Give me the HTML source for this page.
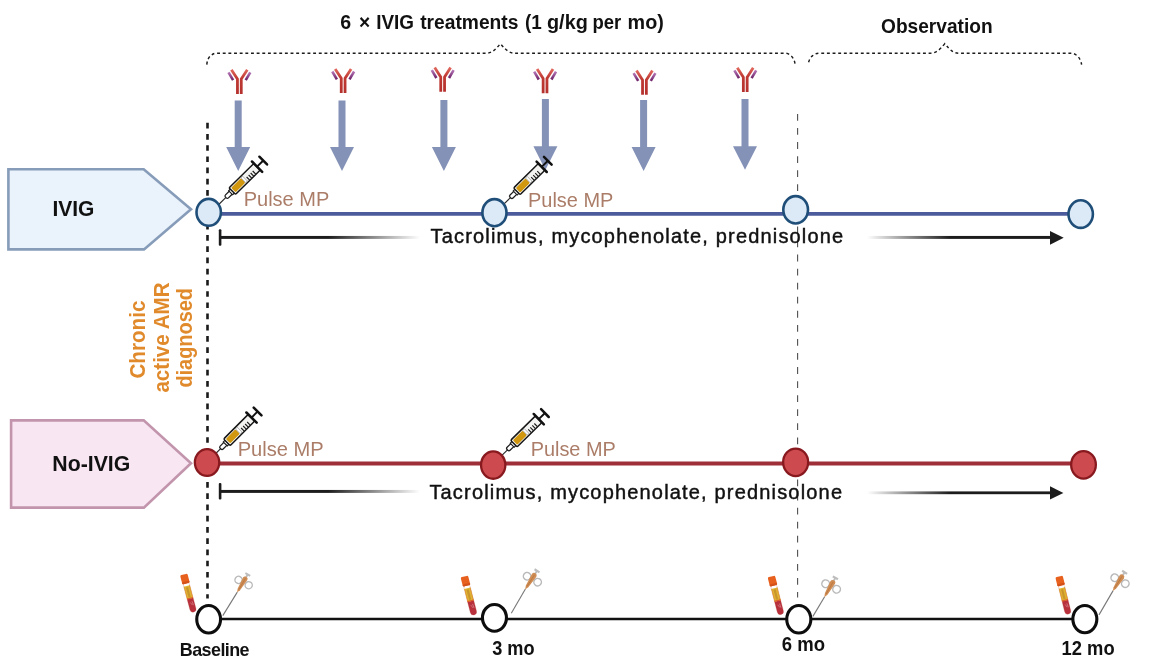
<!DOCTYPE html>
<html>
<head>
<meta charset="utf-8">
<title>IVIG study design</title>
<style>
html,body{margin:0;padding:0;background:#ffffff;}
body{width:1168px;height:664px;overflow:hidden;font-family:"Liberation Sans",sans-serif;}
svg{display:block;will-change:transform;}
text{font-family:"Liberation Sans",sans-serif;}
</style>
</head>
<body>
<svg width="1168" height="664" viewBox="0 0 1168 664">
<defs>
  <linearGradient id="fadeOut" x1="0" y1="0" x2="1" y2="0">
    <stop offset="0" stop-color="#1c1c1c" stop-opacity="1"/>
    <stop offset="0.54" stop-color="#1c1c1c" stop-opacity="1"/>
    <stop offset="1" stop-color="#1c1c1c" stop-opacity="0"/>
  </linearGradient>
  <linearGradient id="fadeIn" x1="0" y1="0" x2="1" y2="0">
    <stop offset="0" stop-color="#1c1c1c" stop-opacity="0"/>
    <stop offset="0.45" stop-color="#1c1c1c" stop-opacity="1"/>
    <stop offset="1" stop-color="#1c1c1c" stop-opacity="1"/>
  </linearGradient>

  <linearGradient id="abR" gradientUnits="userSpaceOnUse" x1="0" y1="-24" x2="0" y2="0">
    <stop offset="0" stop-color="#e0685e"/>
    <stop offset="0.35" stop-color="#bf3a33"/>
    <stop offset="1" stop-color="#b5312d"/>
  </linearGradient>
  <linearGradient id="abP" gradientUnits="userSpaceOnUse" x1="0" y1="-21.4" x2="0" y2="-13.6">
    <stop offset="0" stop-color="#b577b8"/>
    <stop offset="1" stop-color="#6d2166"/>
  </linearGradient>

  <!-- antibody: origin at bottom-centre of stem, 23px tall -->
  <g id="ab">
    <line x1="-10.8" y1="-21.4" x2="-6.2" y2="-13.6" stroke="url(#abP)" stroke-width="2.6"/>
    <line x1="11.0" y1="-21.4" x2="6.4" y2="-13.6" stroke="url(#abP)" stroke-width="2.6"/>
    <path d="M-1.85,0.2 L-1.85,-14.6 L-7.9,-24" fill="none" stroke="url(#abR)" stroke-width="2.8" stroke-linejoin="round"/>
    <path d="M1.95,0.2 L1.95,-14.6 L8,-24" fill="none" stroke="url(#abR)" stroke-width="2.8" stroke-linejoin="round"/>
  </g>

  <!-- big blue down arrow: origin at tip, shaft top at y=-70 -->
  <g id="arr">
    <path d="M-3.5,-70 L3.5,-70 L3.5,-22.5 L12,-22.5 L0,0 L-12,-22.5 L-3.5,-22.5 Z" fill="#8592b7"/>
  </g>

  <!-- syringe: needle tip at (0,0), axis along +x, plunger top at x=61 -->
  <g id="syr">
    <line x1="0" y1="0" x2="11" y2="0" stroke="#2a2a2a" stroke-width="1.1"/>
    <rect x="10.2" y="-2" width="7.3" height="4" rx="1.5" fill="#fff" stroke="#1c1c1c" stroke-width="1.2"/>
    <rect x="16.6" y="-2.7" width="2.6" height="5.4" fill="#fff" stroke="#1c1c1c" stroke-width="1.1"/>
    <rect x="18.8" y="-4.4" width="33" height="8.8" rx="1.2" fill="#f3f3f1" stroke="#161616" stroke-width="1.4"/>
    <rect x="20.3" y="-3" width="13" height="6" rx="1.1" fill="#d0970f"/>
    <rect x="33.6" y="-3.2" width="2.2" height="6.4" fill="#fff" stroke="#777" stroke-width="0.5"/>
    <path d="M38,4.2 v-4.2 M40.7,4.2 v-4.2 M43.4,4.2 v-4.2 M46.1,4.2 v-4.2" stroke="#1c1c1c" stroke-width="1.1" fill="none"/>
    <line x1="52" y1="-6.9" x2="52" y2="6.9" stroke="#111" stroke-width="2.4" stroke-linecap="round"/>
    <line x1="52" y1="0" x2="60" y2="0" stroke="#111" stroke-width="1.9"/>
    <line x1="60.2" y1="-5.2" x2="60.2" y2="5.2" stroke="#111" stroke-width="2.4" stroke-linecap="round"/>
  </g>

  <!-- blood tube: origin top-centre of cap, axis along +y, 39px long -->
  <g id="tube">
    <rect x="-3.1" y="8" width="6.2" height="31" rx="3.1" fill="#fff" stroke="#d9a89a" stroke-width="0.5"/>
    <path d="M-3.1,25 h6.2 v10.9 a3.1,3.1 0 0 1 -6.2,0 Z" fill="#b7303b"/>
    <rect x="-3.1" y="12" width="6.2" height="13" fill="#dfb630"/>
    <rect x="-1.2" y="13.2" width="2.2" height="10.4" fill="#c9952c"/>
    <rect x="-3.1" y="12" width="0.8" height="13" fill="#e0903c"/>
    <rect x="2.3" y="12" width="0.8" height="13" fill="#e0903c"/>
    <rect x="-3.1" y="24.2" width="6.2" height="1.2" fill="#dd5a2c"/>
    <rect x="-3.8" y="0" width="7.6" height="9.4" rx="1.4" fill="#e8601d"/>
    <rect x="-3.8" y="7.3" width="7.6" height="2.1" rx="0.9" fill="#d4511a"/>
    <path d="M-0.9,28.8 l1.5,3.2 M1.1,28.1 l0.5,4.2" stroke="#d8808a" stroke-width="0.7" fill="none"/>
  </g>

  <!-- biopsy needle handle: origin at handle start, axis +x, 19.5 long -->
  <g id="bx">
    <circle cx="11.2" cy="-5.2" r="3.6" fill="#fff" stroke="#b9b9b9" stroke-width="1.4"/>
    <circle cx="11.8" cy="6.3" r="3.6" fill="#fff" stroke="#b9b9b9" stroke-width="1.4"/>
    <path d="M17,-0.9 L19.6,-0.9 L19.6,-2.8 L21.6,-2.8 L21.6,2.8 L19.6,2.8 L19.6,0.9 L17,0.9 Z" fill="#bdbdbd"/>
    <path d="M-0.5,0 L3,-1.4 L15.5,-2.5 Q17.8,-2.4 17.8,0 Q17.8,2.4 15.5,2.5 L3,1.4 Z" fill="#cf8d55"/>
    <path d="M3,0 L16,0" stroke="#b87840" stroke-width="0.8" fill="none"/>
  </g>
</defs>

<rect x="0" y="0" width="1168" height="664" fill="#ffffff"/>

<!-- SECTION: top labels & braces -->
<g id="top">
  <g font-size="19.5" font-weight="bold" fill="#111">
    <text x="340.3" y="28.8" textLength="10.9" lengthAdjust="spacingAndGlyphs">6</text>
    <text x="359.0" y="28.8" textLength="11.2" lengthAdjust="spacingAndGlyphs">×</text>
    <text x="376.2" y="28.8" textLength="37.8" lengthAdjust="spacingAndGlyphs">IVIG</text>
    <text x="420.2" y="28.8" textLength="98.2" lengthAdjust="spacingAndGlyphs">treatments</text>
    <text x="524.9" y="28.8" textLength="16.8" lengthAdjust="spacingAndGlyphs">(1</text>
    <text x="547.0" y="28.8" textLength="40.8" lengthAdjust="spacingAndGlyphs">g/kg</text>
    <text x="592.4" y="28.8" textLength="28.8" lengthAdjust="spacingAndGlyphs">per</text>
    <text x="627.6" y="28.8" textLength="36.2" lengthAdjust="spacingAndGlyphs">mo)</text>
  </g>
  <text x="881" y="32.7" font-size="20.5" font-weight="bold" fill="#111" textLength="111.6" lengthAdjust="spacingAndGlyphs">Observation</text>
  <path d="M206.8,64.6 C207.2,60 208.8,57 211.3,55.2 C212.8,54 214.2,53.2 216.5,53.2 L486,53.2 C491,53.2 494.5,51 500.4,43.6 C506.5,51 510,53.2 515,53.2 L785.5,53.2 C789.5,53.6 792.3,56.3 793.7,59.4 C794.5,61.2 795,63 795.1,64.7" fill="none" stroke="#1c1c1c" stroke-width="1.45" stroke-dasharray="2.9 2.75"/>
  <path d="M808.6,62.2 C809.3,59.6 810.6,57.3 812.4,55.9 C814,54.5 816,53.3 819.5,53.2 L930,53.2 C935,53.2 939,51 944.8,43.6 C950.5,51 954,53.2 959,53.2 L1071.5,53.2 C1075.5,53.6 1078.5,56.4 1080,59.5 C1080.8,61.2 1081.4,63 1081.6,64.7" fill="none" stroke="#1c1c1c" stroke-width="1.45" stroke-dasharray="2.9 2.75"/>
</g>

<!-- SECTION: guide lines -->
<g id="guides">
  <line x1="207.5" y1="122.7" x2="207.5" y2="598.5" stroke="#1a1a1a" stroke-width="2.6" stroke-dasharray="5.7 5.53"/>
  <line x1="797.6" y1="114" x2="797.6" y2="597.6" stroke="#505050" stroke-width="1.1" stroke-dasharray="6.8 7.26"/>
</g>

<!-- SECTION: antibodies & arrows -->
<g id="ivigdoses">
  <path d="M234.7,100.5 L241.7,100.5 L241.7,147.1 L250.2,147.1 L238.2,170.9 L226.2,147.1 L234.7,147.1 Z" fill="#8592b7"/>
  <use href="#ab" x="239.3" y="93.7"/>
  <path d="M338.5,100.4 L345.5,100.4 L345.5,147.1 L354.0,147.1 L342.0,170.9 L330.0,147.1 L338.5,147.1 Z" fill="#8592b7"/>
  <use href="#ab" x="343.1" y="92.9"/>
  <path d="M440.4,100 L447.4,100 L447.4,147.1 L455.9,147.1 L443.9,170.9 L431.9,147.1 L440.4,147.1 Z" fill="#8592b7"/>
  <use href="#ab" x="442.6" y="91.6"/>
  <path d="M541.9,98.9 L548.9,98.9 L548.9,146.2 L557.4,146.2 L545.4,169.9 L533.4,146.2 L541.9,146.2 Z" fill="#8592b7"/>
  <use href="#ab" x="545" y="93.1"/>
  <path d="M640.1,100 L647.1,100 L647.1,147.1 L655.6,147.1 L643.6,170.9 L631.6,147.1 L640.1,147.1 Z" fill="#8592b7"/>
  <use href="#ab" x="644.4" y="94.5"/>
  <path d="M741.5,98.9 L748.5,98.9 L748.5,146.2 L757.0,146.2 L745.0,169.8 L733.0,146.2 L741.5,146.2 Z" fill="#8592b7"/>
  <use href="#ab" x="745.2" y="91.8"/>
</g>

<!-- SECTION: IVIG arm -->
<g id="ivig">
  <polygon points="8.4,169.3 143.7,169.3 191,209.2 144,249.4 8.4,249.4" fill="#eaf2fb" stroke="#869cb9" stroke-width="2.6" stroke-linejoin="miter"/>
  <text x="52.4" y="215.6" font-size="21.3" font-weight="bold" fill="#111" textLength="42" lengthAdjust="spacingAndGlyphs">IVIG</text>
  <line x1="208" y1="213.8" x2="1081" y2="213.8" stroke="#4b5b9b" stroke-width="3.8"/>
  <rect x="220" y="235.95" width="200" height="2.95" fill="url(#fadeOut)"/>
  <rect x="218.8" y="229.2" width="2.6" height="16.6" rx="1" fill="#1c1c1c"/>
  <rect x="867" y="235.95" width="185" height="2.95" fill="url(#fadeIn)"/>
  <polygon points="1050,231 1063.7,237.8 1050,244.7" fill="#1c1c1c"/>
  <text x="430.6" y="242.5" font-size="20" fill="#111" stroke="#111" stroke-width="0.45" textLength="412.6" lengthAdjust="spacing">Tacrolimus, mycophenolate, prednisolone</text>
  <use href="#syr" transform="translate(263.2,160.6) rotate(-44.66) scale(1.05) translate(-60.2,0)"/>
  <use href="#syr" transform="translate(547.8,160.8) rotate(-44.6) scale(1.05) translate(-60.2,0)"/>
  <ellipse cx="208.70" cy="212.30" rx="12.20" ry="13.40" fill="#dce9f7" stroke="#1f4e79" stroke-width="2.6"/>
  <ellipse cx="494.45" cy="212.65" rx="12.05" ry="13.55" fill="#dce9f7" stroke="#1f4e79" stroke-width="2.6"/>
  <ellipse cx="795.65" cy="209.80" rx="12.35" ry="13.70" fill="#dce9f7" stroke="#1f4e79" stroke-width="2.6"/>
  <ellipse cx="1080.70" cy="214.10" rx="12.20" ry="13.80" fill="#dce9f7" stroke="#1f4e79" stroke-width="2.6"/>
  <text x="243.7" y="206.2" font-size="20" fill="#ab7d68" textLength="85.6" lengthAdjust="spacingAndGlyphs">Pulse MP</text>
  <text x="528.0" y="207.4" font-size="20" fill="#ab7d68" textLength="85.4" lengthAdjust="spacingAndGlyphs">Pulse MP</text>
</g>

<!-- SECTION: No-IVIG arm -->
<g id="noivig">
  <polygon points="11.1,420.4 143.7,420.4 191,463.3 143.9,507.6 11.1,507.6" fill="#f8e6f3" stroke="#c295ad" stroke-width="2.6" stroke-linejoin="miter"/>
  <text x="52.3" y="470.6" font-size="22" font-weight="bold" fill="#111" textLength="78" lengthAdjust="spacingAndGlyphs">No-IVIG</text>
  <line x1="207" y1="463.5" x2="1084" y2="463.5" stroke="#9e2f39" stroke-width="4.2"/>
  <rect x="220" y="489.95" width="200" height="2.95" fill="url(#fadeOut)"/>
  <rect x="218.8" y="483" width="2.6" height="16.6" rx="1" fill="#1c1c1c"/>
  <rect x="867" y="491.4" width="185" height="2.8" fill="url(#fadeIn)"/>
  <polygon points="1050,486.2 1063.4,492.9 1050,499.6" fill="#1c1c1c"/>
  <text x="429.4" y="498.8" font-size="20" fill="#111" stroke="#111" stroke-width="0.45" textLength="412.6" lengthAdjust="spacing">Tacrolimus, mycophenolate, prednisolone</text>
  <use href="#syr" transform="translate(257.6,411.5) rotate(-45.1) scale(1.05) translate(-60.2,0)"/>
  <use href="#syr" transform="translate(544.9,413.1) rotate(-44.5) scale(1.05) translate(-60.2,0)"/>
  <ellipse cx="207.05" cy="462.45" rx="12.20" ry="13.40" fill="#cd4b4e" stroke="#87191f" stroke-width="2.3"/>
  <ellipse cx="493.20" cy="465.05" rx="12.15" ry="13.70" fill="#cd4b4e" stroke="#87191f" stroke-width="2.3"/>
  <ellipse cx="795.65" cy="462.30" rx="12.50" ry="13.75" fill="#cd4b4e" stroke="#87191f" stroke-width="2.3"/>
  <ellipse cx="1083.50" cy="464.85" rx="12.35" ry="13.80" fill="#cd4b4e" stroke="#87191f" stroke-width="2.3"/>
  <text x="237.7" y="455.6" font-size="20" fill="#ab7d68" textLength="86.1" lengthAdjust="spacingAndGlyphs">Pulse MP</text>
  <text x="530.7" y="455.6" font-size="20" fill="#ab7d68" textLength="85.1" lengthAdjust="spacingAndGlyphs">Pulse MP</text>
</g>

<!-- SECTION: vertical label -->
<g id="vlabel" font-size="22" font-weight="bold" fill="#e08a2c">
  <text transform="translate(144.5,378.6) rotate(-90)" textLength="78" lengthAdjust="spacingAndGlyphs">Chronic</text>
  <text transform="translate(169.2,392.6) rotate(-90)" textLength="110.2" lengthAdjust="spacingAndGlyphs">active AMR</text>
  <text transform="translate(192.4,387.6) rotate(-90)" textLength="99.6" lengthAdjust="spacingAndGlyphs">diagnosed</text>
</g>

<!-- SECTION: bottom timeline -->
<g id="timeline">
  <line x1="209" y1="619.1" x2="1085" y2="619.1" stroke="#111" stroke-width="2.5"/>
  <ellipse cx="208.65" cy="619.30" rx="11.90" ry="13.75" fill="#ffffff" stroke="#0d0d0d" stroke-width="3.1"/>
  <ellipse cx="494.45" cy="617.85" rx="12.00" ry="13.40" fill="#ffffff" stroke="#0d0d0d" stroke-width="3.1"/>
  <ellipse cx="798.80" cy="619.20" rx="12.05" ry="13.75" fill="#ffffff" stroke="#0d0d0d" stroke-width="3.1"/>
  <ellipse cx="1084.85" cy="619.10" rx="12.00" ry="13.65" fill="#ffffff" stroke="#0d0d0d" stroke-width="3.1"/>
  <use href="#tube" transform="translate(183.7,574.5) rotate(-14.93) scale(0.995)"/>
  <use href="#tube" transform="translate(464.3,576.5) rotate(-14.46) scale(1.017)"/>
  <use href="#tube" transform="translate(771.3,576.5) rotate(-14.46) scale(1.006)"/>
  <use href="#tube" transform="translate(1059,576.5) rotate(-14.04) scale(0.994)"/>
  <line x1="222.8" y1="615.6" x2="237.3" y2="592.1" stroke="#777" stroke-width="1.1"/><use href="#bx" transform="translate(237.3,592.1) rotate(-59.34) scale(0.996)"/>
  <line x1="511.3" y1="613.3" x2="525.4" y2="589" stroke="#777" stroke-width="1.1"/><use href="#bx" transform="translate(525.4,589) rotate(-57.40) scale(1.047)"/>
  <line x1="812.9" y1="616.4" x2="824.6" y2="596.8" stroke="#777" stroke-width="1.1"/><use href="#bx" transform="translate(824.6,596.8) rotate(-60.46) scale(1.061)"/>
  <line x1="1099" y1="614.9" x2="1113.1" y2="590.6" stroke="#777" stroke-width="1.1"/><use href="#bx" transform="translate(1113.1,590.6) rotate(-57.79) scale(1.049)"/>
  <text x="179.8" y="656.2" font-size="19" font-weight="bold" fill="#111" letter-spacing="-0.6" textLength="69.2" lengthAdjust="spacingAndGlyphs">Baseline</text>
  <text x="492.2" y="655" font-size="19.5" font-weight="bold" fill="#111" textLength="42.4" lengthAdjust="spacingAndGlyphs">3 mo</text>
  <text x="781.8" y="651.2" font-size="19.5" font-weight="bold" fill="#111" textLength="43.2" lengthAdjust="spacingAndGlyphs">6 mo</text>
  <text x="1061.6" y="654.8" font-size="19.5" font-weight="bold" fill="#111" textLength="53" lengthAdjust="spacingAndGlyphs">12 mo</text>
</g>

</svg>
</body>
</html>
